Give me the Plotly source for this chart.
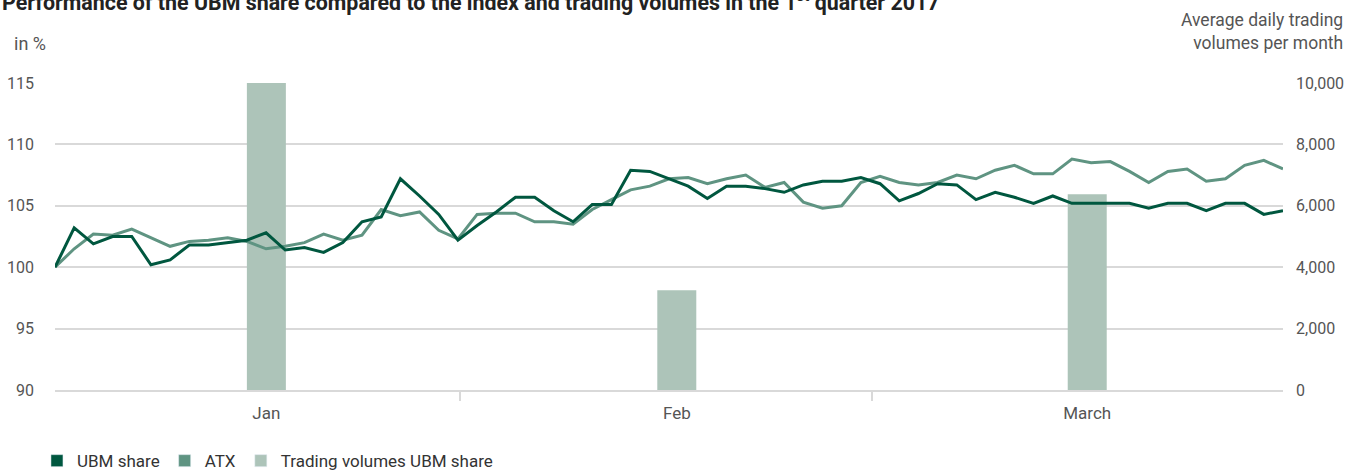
import plotly.graph_objects as go

# ---- data ----
months = ["Jan", "Feb", "March"]
volumes = [10000, 3250, 6380]  # average daily trading volumes per month

day_index = list(range(65))
ubm_share = [100.0, 103.2, 101.9, 102.5, 102.5, 100.2, 100.6, 101.8, 101.8, 102.0, 102.2, 102.8, 101.4,
             101.6, 101.2, 102.0, 103.7, 104.1, 107.2, 105.8, 104.3, 102.2, 103.4, 104.5, 105.7, 105.7,
             104.6, 103.7, 105.1, 105.1, 107.9, 107.8, 107.2, 106.6, 105.6, 106.6, 106.6, 106.4, 106.1,
             106.7, 107.0, 107.0, 107.3, 106.8, 105.4, 106.0, 106.8, 106.7, 105.5, 106.1, 105.7, 105.2,
             105.8, 105.2, 105.2, 105.2, 105.2, 104.8, 105.2, 105.2, 104.6, 105.2, 105.2, 104.3, 104.6]
atx = [100.0, 101.5, 102.7, 102.6, 103.1, 102.4, 101.7, 102.1, 102.2, 102.4, 102.1, 101.5, 101.7,
       102.0, 102.7, 102.2, 102.6, 104.7, 104.2, 104.5, 103.0, 102.3, 104.3, 104.4, 104.4, 103.7,
       103.7, 103.5, 104.7, 105.5, 106.3, 106.6, 107.2, 107.3, 106.8, 107.2, 107.5, 106.5, 106.9,
       105.3, 104.8, 105.0, 106.9, 107.4, 106.9, 106.7, 106.9, 107.5, 107.2, 107.9, 108.3, 107.6,
       107.6, 108.8, 108.5, 108.6, 107.8, 106.9, 107.8, 108.0, 107.0, 107.2, 108.3, 108.7, 108.0]
month_separators = [21.1, 42.6]  # positions (in trading-day index) of the month tick marks

# ---- style ----
C_UBM = "#00573f"
C_ATX = "#5f9482"
C_VOL = "#adc4b9"
GRID = "#d9d9d9"
TXT = "#555555"
FONT = "Roboto"

fig = go.Figure()

# bars on base subplot (drawn below lines)
fig.add_trace(go.Bar(x=months, y=volumes, name="Trading volumes UBM share",
                     marker=dict(color=C_VOL, line=dict(width=0)), width=0.095,
                     xaxis="x", yaxis="y", showlegend=False, hoverinfo="skip"))

# lines on overlaid subplot
fig.add_trace(go.Scatter(x=day_index, y=atx, mode="lines", name="ATX",
                         line=dict(color=C_ATX, width=3), xaxis="x2", yaxis="y2", showlegend=False))
fig.add_trace(go.Scatter(x=day_index, y=ubm_share, mode="lines", name="UBM share",
                         line=dict(color=C_UBM, width=3), xaxis="x2", yaxis="y2", showlegend=False))

# legend entries (square symbols)
for nm, col in [("UBM share", C_UBM), ("ATX", C_ATX), ("Trading volumes UBM share", C_VOL)]:
    fig.add_trace(go.Bar(x=[None], y=[None], name=nm, marker=dict(color=col),
                         xaxis="x", yaxis="y", showlegend=True))

fig.update_layout(
    width=1359, height=471,
    margin=dict(l=55, r=76, t=83, b=81, autoexpand=False),
    paper_bgcolor="white", plot_bgcolor="white",
    barmode="overlay",
    font=dict(family=FONT, size=15, color=TXT),
    xaxis=dict(type="category", categoryorder="array", categoryarray=months, automargin=False,
               range=[-0.515, 2.477], showgrid=False, zeroline=False, showline=True,
               linecolor=GRID, linewidth=1.5, ticks="", ticklabelstandoff=7,
               tickfont=dict(size=17, color=TXT)),
    yaxis=dict(side="right", range=[0, 10000], dtick=2000, tickformat=",", automargin=False,
               showgrid=False, zeroline=False, ticklabelstandoff=12,
               tickfont=dict(size=16, color=TXT)),
    xaxis2=dict(overlaying="x", side="bottom", range=[0, 64], showgrid=False, zeroline=False,
                automargin=False, tickmode="array", tickvals=month_separators,
                showticklabels=False,
                ticks="outside", ticklen=10, tickcolor=GRID, tickwidth=1.5),
    yaxis2=dict(overlaying="y", side="left", range=[90, 115], dtick=5, automargin=False,
                showgrid=True, gridcolor=GRID, gridwidth=1.5, zeroline=False,
                ticklabelstandoff=20, tickfont=dict(size=16, color=TXT)),
    legend=dict(orientation="h", xref="container", yref="container",
                x=0.0272, xanchor="left", y=0.021, yanchor="middle",
                font=dict(size=17, color="#333333"), itemwidth=30,
                traceorder="normal", bgcolor="rgba(0,0,0,0)"),
    showlegend=True,
    annotations=[
        dict(text="Performance of the UBM share compared to the index and trading volumes in the 1<sup>st</sup> quarter 2017",
             xref="paper", yref="paper", x=-0.0448, y=1.267, xanchor="left", yanchor="middle",
             showarrow=False, font=dict(family=FONT, size=21.4, color="#222222", weight="bold")),
        dict(text="in %", xref="paper", yref="paper", x=-0.035, y=1.13, xanchor="left",
             yanchor="middle", showarrow=False, font=dict(size=18, color=TXT)),
        dict(text="Average daily trading<br>volumes per month", xref="paper", yref="paper",
             x=1.0505, y=1.169, xanchor="right", yanchor="middle", align="right",
             showarrow=False, font=dict(size=17.5, color=TXT)),
    ],
)

fig.write_html("out.html", config={"displayModeBar": False},
               post_script="document.body.style.margin='0';document.body.style.padding='0';"
                           "document.body.style.overflow='hidden';")
